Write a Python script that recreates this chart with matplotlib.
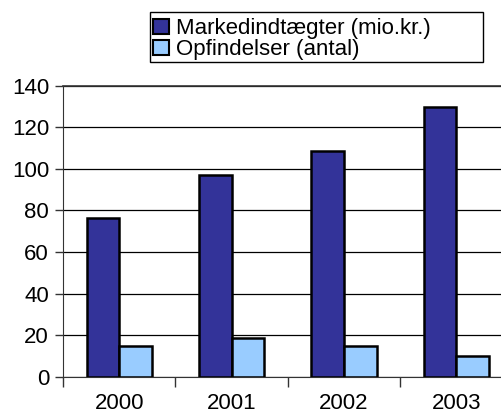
import matplotlib
matplotlib.use("Agg")
import matplotlib.pyplot as plt
from matplotlib.patches import Patch, Rectangle
import numpy as np

years = ["2000", "2001", "2002", "2003"]
markedsindtaegter = [76.5, 96.8, 108.5, 129.8]
opfindelser = [14.9, 18.8, 14.7, 10.0]
series_labels = ["Markedindtægter (mio.kr.)", "Opfindelser (antal)"]
colors = ["#333399", "#99CCFF"]
yticks = [0, 20, 40, 60, 80, 100, 120, 140]

plt.rcParams['font.family'] = ['Liberation Sans', 'DejaVu Sans']
FS = 16

W, H = 501, 415
fig = plt.figure(figsize=(W / 100, H / 100), dpi=100)
left, right = 63, 63 + 4 * 112.4
top, bottom = 85.7, 376.7
ax = fig.add_axes([left / W, 1 - bottom / H, (right - left) / W, (bottom - top) / H])

x = np.arange(len(years)) + 0.5
bw = 0.29
ax.bar(x - bw / 2, markedsindtaegter, bw, color=colors[0], edgecolor="black", linewidth=1.8, zorder=3)
ax.bar(x + bw / 2, opfindelser, bw, color=colors[1], edgecolor="black", linewidth=1.8, zorder=3)

ax.set_xlim(0, 4)
ax.set_ylim(0, 140)
ax.set_yticks(yticks)
ax.set_yticklabels([str(v) for v in yticks], fontsize=FS)
ax.set_xticks(np.arange(0, 5))
ax.set_xticklabels([])
ax.set_xticks(x, minor=True)
ax.set_xticklabels(years, minor=True, fontsize=FS)
ax.tick_params(axis='x', which='major', direction='out', length=7, width=1, color='#333333')
ax.tick_params(axis='x', which='minor', length=0, pad=12)
ax.tick_params(axis='y', direction='out', length=6, width=1, color='#333333', pad=4)

ax.yaxis.grid(True, color='black', linewidth=0.9, zorder=0)
ax.set_axisbelow(True)
ax.spines['right'].set_visible(False)
ax.spines['top'].set_color('#333333')
ax.spines['top'].set_linewidth(1.2)
ax.spines['left'].set_color('#333333')
ax.spines['bottom'].set_color('#333333')

# legend box
fig.patches.append(Rectangle((150 / W, 1 - 62 / H), (483 - 150) / W, (62 - 12) / H,
                             transform=fig.transFigure, facecolor='white',
                             edgecolor='black', linewidth=1.0, zorder=1))
handles = [Patch(facecolor=colors[0], edgecolor='black', linewidth=1.5),
           Patch(facecolor=colors[1], edgecolor='black', linewidth=1.5)]
leg = fig.legend(handles, series_labels, loc='upper left',
                 bbox_to_anchor=(150 / W, 1 - 15 / H), bbox_transform=fig.transFigure,
                 fontsize=FS, frameon=False,
                 handlelength=0.7, handleheight=0.7,
                 handletextpad=0.3, labelspacing=0.0, borderpad=0.15,
                 borderaxespad=0)
leg.set_zorder(2)

fig.savefig("out.png", dpi=100)
